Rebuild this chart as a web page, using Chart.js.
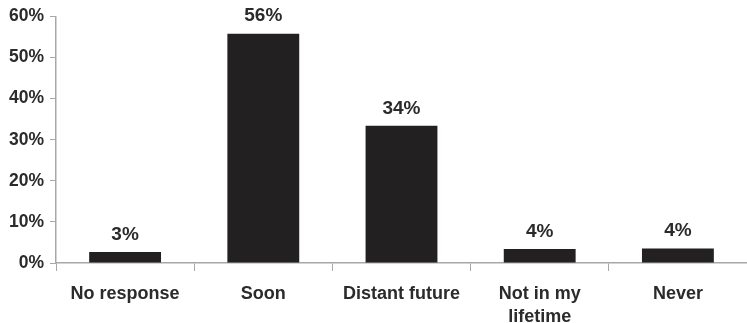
<!DOCTYPE html>
<html>
<head>
<meta charset="utf-8">
<script src="https://cdn.jsdelivr.net/npm/chart.js@4/dist/chart.umd.min.js"></script>
<style>
  html, body { margin: 0; padding: 0; background: #fff; }
  #wrap { width: 747px; height: 323px; position: relative; }
</style>
</head>
<body>
<div id="wrap"><canvas id="barchart"></canvas></div>
<script>
var categories = ['No response', 'Soon', 'Distant future', ['Not in my', 'lifetime'], 'Never'];
var values = [2.7, 55.8, 33.4, 3.4, 3.5];
var valueLabels = ['3%', '56%', '34%', '4%', '4%'];
var yTicks = [0, 10, 20, 30, 40, 50, 60];

var textColor = '#2b2b2b';
var axisColor = '#a8a8a8';
var fontFamily = '"Liberation Sans", Arial, sans-serif';

// draw the value above each bar
var barLabels = {
    id: 'barLabels',
    afterDatasetsDraw: function(chart) {
        var ctx = chart.ctx;
        var meta = chart.getDatasetMeta(0);
        ctx.save();
        ctx.font = 'bold 19px ' + fontFamily;
        ctx.fillStyle = textColor;
        ctx.textAlign = 'center';
        ctx.textBaseline = 'bottom';
        meta.data.forEach(function(bar, i) {
            ctx.fillText(valueLabels[i], bar.x, bar.y - 8);
        });
        ctx.restore();
    }
};

var ctx = document.getElementById('barchart');
var chart = new Chart(ctx, {
    type: 'bar',
    data: {
        labels: categories,
        datasets: [{
            data: values,
            backgroundColor: '#232021',
            borderWidth: 0,
            categoryPercentage: 1,
            barPercentage: 0.52
        }]
    },
    options: {
        responsive: true,
        maintainAspectRatio: false,
        animation: false,
        layout: { padding: { top: 8, right: 0, left: 0, bottom: 0 } },
        plugins: {
            legend: { display: false },
            tooltip: { enabled: false }
        },
        scales: {
            x: {
                offset: true,
                grid: {
                    offset: true,
                    drawOnChartArea: false,
                    drawTicks: true,
                    tickLength: 8,
                    color: axisColor
                },
                border: { color: axisColor, width: 1.5 },
                ticks: {
                    color: textColor,
                    font: { family: fontFamily, size: 18, weight: 'bold', lineHeight: 1.25 },
                    padding: 12,
                    maxRotation: 0
                },
                afterFit: function(s) { s.height = 60; }
            },
            y: {
                min: 0,
                max: 60,
                afterBuildTicks: function(s) {
                    s.ticks = yTicks.map(function(v) { return { value: v }; });
                },
                grid: {
                    drawOnChartArea: false,
                    drawTicks: true,
                    tickLength: 6,
                    color: axisColor
                },
                border: { color: axisColor, width: 1.5 },
                ticks: {
                    color: textColor,
                    font: { family: fontFamily, size: 17.5, weight: 'bold' },
                    padding: 6,
                    callback: function(v) { return v + '%'; }
                },
                afterFit: function(s) { s.width = 56; }
            }
        }
    },
    plugins: [barLabels]
});
</script>
</body>
</html>
